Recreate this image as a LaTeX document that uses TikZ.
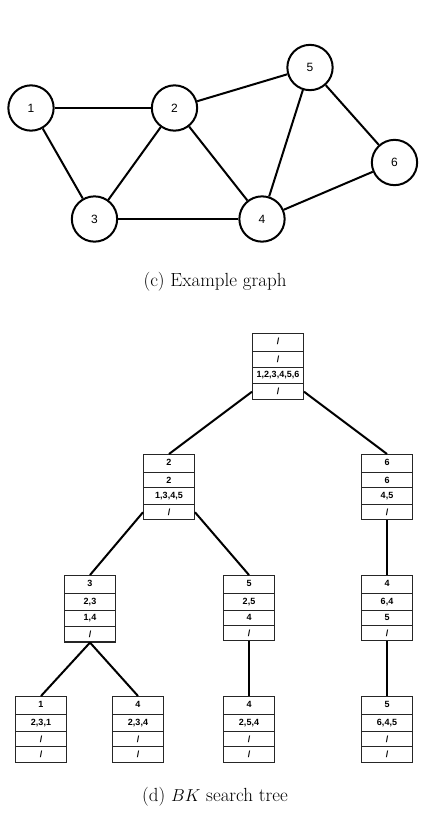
\documentclass[tikz,border=0pt]{standalone}
\usepackage{fontspec}
\newfontfamily\arial{Liberation Sans}
\usetikzlibrary{shapes.multipart}
\begin{document}
\begin{tikzpicture}[x=1pt,y=-1pt,
  vtx/.style={circle,draw,line width=2pt,minimum size=45.3pt,inner sep=0pt,font=\arial\fontsize{12}{14}\selectfont},
  edge/.style={line width=2pt},
  bk/.style={rectangle split,rectangle split parts=4,draw=black!85,line width=1.1pt,minimum width=50.9pt,
    inner xsep=0pt,inner ysep=3.85pt,text height=7pt,text depth=2.3pt,anchor=north,
    font=\arial\bfseries\fontsize{9}{10}\selectfont},
  captxt/.style={font=\fontsize{19}{22}\selectfont}
  ]
\useasboundingbox (0,0) rectangle (425,825);
% graph
\node[vtx] (v1) at (31,108) {1};
\node[vtx] (v2) at (174.5,108) {2};
\node[vtx] (v5) at (310,67.5) {5};
\node[vtx] (v6) at (394.5,162.5) {6};
\node[vtx] (v3) at (94.5,219) {3};
\node[vtx] (v4) at (262,219) {4};
\draw[edge] (v1) -- (v2);
\draw[edge] (v1) -- (v3);
\draw[edge] (v2) -- (v3);
\draw[edge] (v2) -- (v4);
\draw[edge] (v2) -- (v5);
\draw[edge] (v3) -- (v4);
\draw[edge] (v4) -- (v5);
\draw[edge] (v4) -- (v6);
\draw[edge] (v5) -- (v6);
\node[captxt] (capc) at (215,282) {(c) Example graph};
% tree
\node[bk] (r) at (278,333) {/\nodepart{two}/\nodepart{three}1,2,3,4,5,6\nodepart{four}/};
\node[bk] (a) at (169,454) {2\nodepart{two}2\nodepart{three}1,3,4,5\nodepart{four}/};
\node[bk] (b) at (387,454) {6\nodepart{two}6\nodepart{three}4,5\nodepart{four}/};
\node[bk] (aa) at (90,575) {3\nodepart{two}2,3\nodepart{three}1,4\nodepart{four}/};
\node[bk] (ab) at (249,575) {5\nodepart{two}2,5\nodepart{three}4\nodepart{four}/};
\node[bk] (ba) at (387,575) {4\nodepart{two}6,4\nodepart{three}5\nodepart{four}/};
\node[bk] (aaa) at (41,696) {1\nodepart{two}2,3,1\nodepart{three}/\nodepart{four}/};
\node[bk] (aab) at (138,696) {4\nodepart{two}2,3,4\nodepart{three}/\nodepart{four}/};
\node[bk] (aba) at (249,696) {4\nodepart{two}2,5,4\nodepart{three}/\nodepart{four}/};
\node[bk] (baa) at (387,696) {5\nodepart{two}6,4,5\nodepart{three}/\nodepart{four}/};
\draw[edge] ([yshift=8pt]r.south west) -- (a.north);
\draw[edge] ([yshift=8pt]r.south east) -- (b.north);
\draw[edge] ([yshift=8pt]a.south west) -- (aa.north);
\draw[edge] ([yshift=8pt]a.south east) -- (ab.north);
\draw[edge] (b.south) -- (ba.north);
\draw[edge] (aa.south) -- (aaa.north);
\draw[edge] (aa.south) -- (aab.north);
\draw[edge] (ab.south) -- (aba.north);
\draw[edge] (ba.south) -- (baa.north);
\node[captxt] (capd) at (215,797) {(d) $BK$ search tree};
\end{tikzpicture}
\end{document}
